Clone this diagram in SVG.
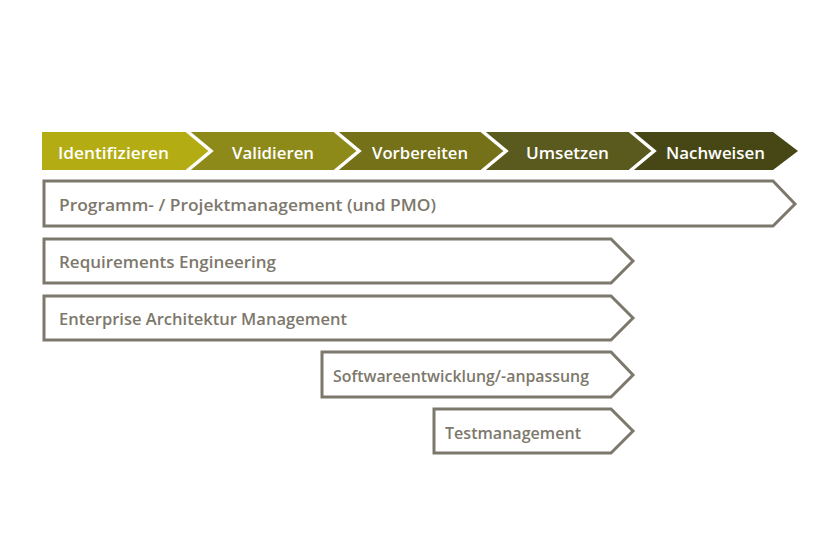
<svg xmlns="http://www.w3.org/2000/svg" width="840" height="548" viewBox="0 0 840 548">
<style>
.ph{font-family:"Open Sans","Liberation Sans",sans-serif;font-weight:600;font-size:17px;fill:#ffffff;text-anchor:middle}
.sep{fill:none;stroke:#ffffff;stroke-width:3.5}
.box{fill:#ffffff;stroke:#7d786c;stroke-width:3}
.lb{font-family:"Open Sans","Liberation Sans",sans-serif;font-weight:600;font-size:17px;fill:#7d786c}
</style>
<rect width="840" height="548" fill="#ffffff"/>
<g id="phases">
<g id="p1"><polygon points="42,132 190,132 214,151 190,170 42,170" fill="#b3ac12"/><text class="ph" x="113.5" y="159" textLength="111" lengthAdjust="spacingAndGlyphs">Identifizieren</text></g>
<g id="p2"><polygon points="186,132 338,132 362,151 338,170 186,170 210,151" fill="#8e8a1a"/><text class="ph" x="273" y="159" textLength="82" lengthAdjust="spacingAndGlyphs">Validieren</text></g>
<g id="p3"><polygon points="334,132 485,132 509,151 485,170 334,170 358,151" fill="#757119"/><text class="ph" x="420" y="159" textLength="96" lengthAdjust="spacingAndGlyphs">Vorbereiten</text></g>
<g id="p4"><polygon points="481,132 633,132 657,151 633,170 481,170 505,151" fill="#5a5a1e"/><text class="ph" x="567.5" y="159" textLength="83" lengthAdjust="spacingAndGlyphs">Umsetzen</text></g>
<g id="p5"><polygon points="629,132 773,132 798,151 773,170 629,170 653,151" fill="#474716"/><text class="ph" x="715.5" y="159" textLength="99" lengthAdjust="spacingAndGlyphs">Nachweisen</text></g>
<polyline class="sep" points="187,131 211,151 187,171"/>
<polyline class="sep" points="335,131 359,151 335,171"/>
<polyline class="sep" points="482,131 506,151 482,171"/>
<polyline class="sep" points="630,131 654,151 630,171"/>
</g>
<g id="b1"><polygon class="box" points="44,181 773,181 795,204 773,226 44,226"/><text class="lb" x="59" y="211" textLength="377" lengthAdjust="spacingAndGlyphs">Programm- / Projektmanagement (und PMO)</text></g>
<g id="b2"><polygon class="box" points="44,239 611,239 633,261 611,283 44,283"/><text class="lb" x="59" y="268" textLength="217" lengthAdjust="spacingAndGlyphs">Requirements Engineering</text></g>
<g id="b3"><polygon class="box" points="44,296 611,296 633,318 611,340 44,340"/><text class="lb" x="59" y="325" textLength="288" lengthAdjust="spacingAndGlyphs">Enterprise Architektur Management</text></g>
<g id="b4"><polygon class="box" points="322,352 611,352 633,375 611,397 322,397"/><text class="lb" x="333" y="382" textLength="256" lengthAdjust="spacingAndGlyphs">Softwareentwicklung/-anpassung</text></g>
<g id="b5"><polygon class="box" points="434,409 611,409 633,431 611,453 434,453"/><text class="lb" x="445" y="439" textLength="136" lengthAdjust="spacingAndGlyphs">Testmanagement</text></g>
</svg>
